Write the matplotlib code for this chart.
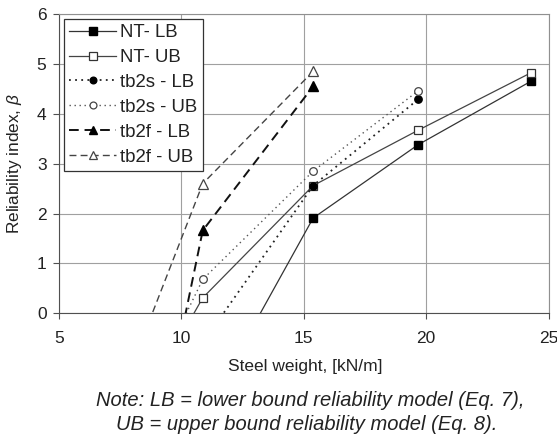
"""Reliability index vs steel weight chart."""

import matplotlib

matplotlib.use("Agg")
import matplotlib.pyplot as plt

plt.rcParams["font.family"] = ["Liberation Sans", "DejaVu Sans"]
plt.rcParams["mathtext.fontset"] = "custom"
plt.rcParams["mathtext.it"] = "Liberation Sans:italic"

# Steel weight [kN/m] and reliability index per series
NT_LB_X = [10.87, 15.38, 19.67, 24.27]
NT_LB_Y = [-2.08, 1.91, 3.38, 4.65]
NT_UB_X = [8.5, 10.87, 15.38, 19.67, 24.27]
NT_UB_Y = [-1.73, 0.31, 2.56, 3.67, 4.82]
TB2S_LB_X = [10.87, 15.38, 19.67]
TB2S_LB_Y = [-0.59, 2.56, 4.29]
TB2S_UB_X = [8.5, 10.87, 15.38, 19.67]
TB2S_UB_Y = [-1.72, 0.68, 2.85, 4.46]
TB2F_LB_X = [8.5, 10.87, 15.38]
TB2F_LB_Y = [-3.96, 1.66, 4.55]
TB2F_UB_X = [8.5, 10.87, 15.38]
TB2F_UB_Y = [-0.39, 2.60, 4.85]

X_TICKS = [5, 10, 15, 20, 25]
Y_TICKS = [0, 1, 2, 3, 4, 5, 6]

fig = plt.figure(figsize=(5.57, 4.38), dpi=100)
ax = fig.add_axes([0.106, 0.2847, 0.879, 0.6833])

ax.plot(NT_LB_X, NT_LB_Y, color="#333333", lw=0.9, marker="s", ms=6.3,
        mfc="black", mec="black", label="NT- LB")
ax.plot(NT_UB_X, NT_UB_Y, color="#444444", lw=0.9, marker="s", ms=6.3,
        mfc="white", mec="#333333", mew=0.9, label="NT- UB")
ax.plot(TB2S_LB_X, TB2S_LB_Y, color="#222222", lw=1.3, ls=(0, (1, 2.4)),
        marker="o", ms=5.3, mfc="black", mec="black", label="tb2s - LB")
ax.plot(TB2S_UB_X, TB2S_UB_Y, color="#555555", lw=1.0, ls=(0, (1, 2.6)),
        marker="o", ms=5.5, mfc="white", mec="#444444", mew=0.9, label="tb2s - UB")
ax.plot(TB2F_LB_X, TB2F_LB_Y, color="#111111", lw=1.4, ls=(0, (5, 3)),
        marker="^", ms=6.5, mfc="black", mec="black", label="tb2f - LB")
ax.plot(TB2F_UB_X, TB2F_UB_Y, color="#444444", lw=1.0, ls=(0, (5, 3)),
        marker="^", ms=6.5, mfc="white", mec="#444444", mew=0.9, label="tb2f - UB")

ax.set_xlim(5, 25)
ax.set_ylim(0, 6)
ax.set_xticks(X_TICKS)
ax.set_yticks(Y_TICKS)
ax.grid(True, color="#a0a0a0", lw=0.8)
ax.set_axisbelow(True)
for side in ["top", "right"]:
    ax.spines[side].set_color("#909090")
for side in ["left", "bottom"]:
    ax.spines[side].set_color("#505050")
ax.tick_params(axis="both", labelsize=12.5, direction="out", length=4,
               color="#505050", colors="#222222")
ax.tick_params(axis="x", pad=9)
ax.tick_params(axis="y", pad=5)

ax.set_xlabel("Steel weight, [kN/m]", fontsize=12.5, color="#222222")
ax.set_ylabel(r"Reliability index, $\mathit{\beta}$", fontsize=12.4,
              color="#222222")
ax.xaxis.set_label_coords(0.502, -0.153)
ax.yaxis.set_label_coords(-0.072, 0.5)

leg = ax.legend(loc="upper left", fontsize=13.4, handlelength=2.5,
                borderaxespad=0.25, labelspacing=0.42, handletextpad=0.25,
                fancybox=False, framealpha=1, edgecolor="#333333",
                borderpad=0.3, markerscale=0.9)
leg.get_frame().set_linewidth(0.9)
for txt in leg.get_texts():
    txt.set_color("#222222")

fig.text(0.5565, 0.0845, "Note: LB = lower bound reliability model (Eq. 7),",
         ha="center", va="center", fontsize=14.5, style="italic", color="#222222")
fig.text(0.5515, 0.0305, "UB = upper bound reliability model (Eq. 8).",
         ha="center", va="center", fontsize=14.5, style="italic", color="#222222")

fig.savefig("out.png", dpi=100)
